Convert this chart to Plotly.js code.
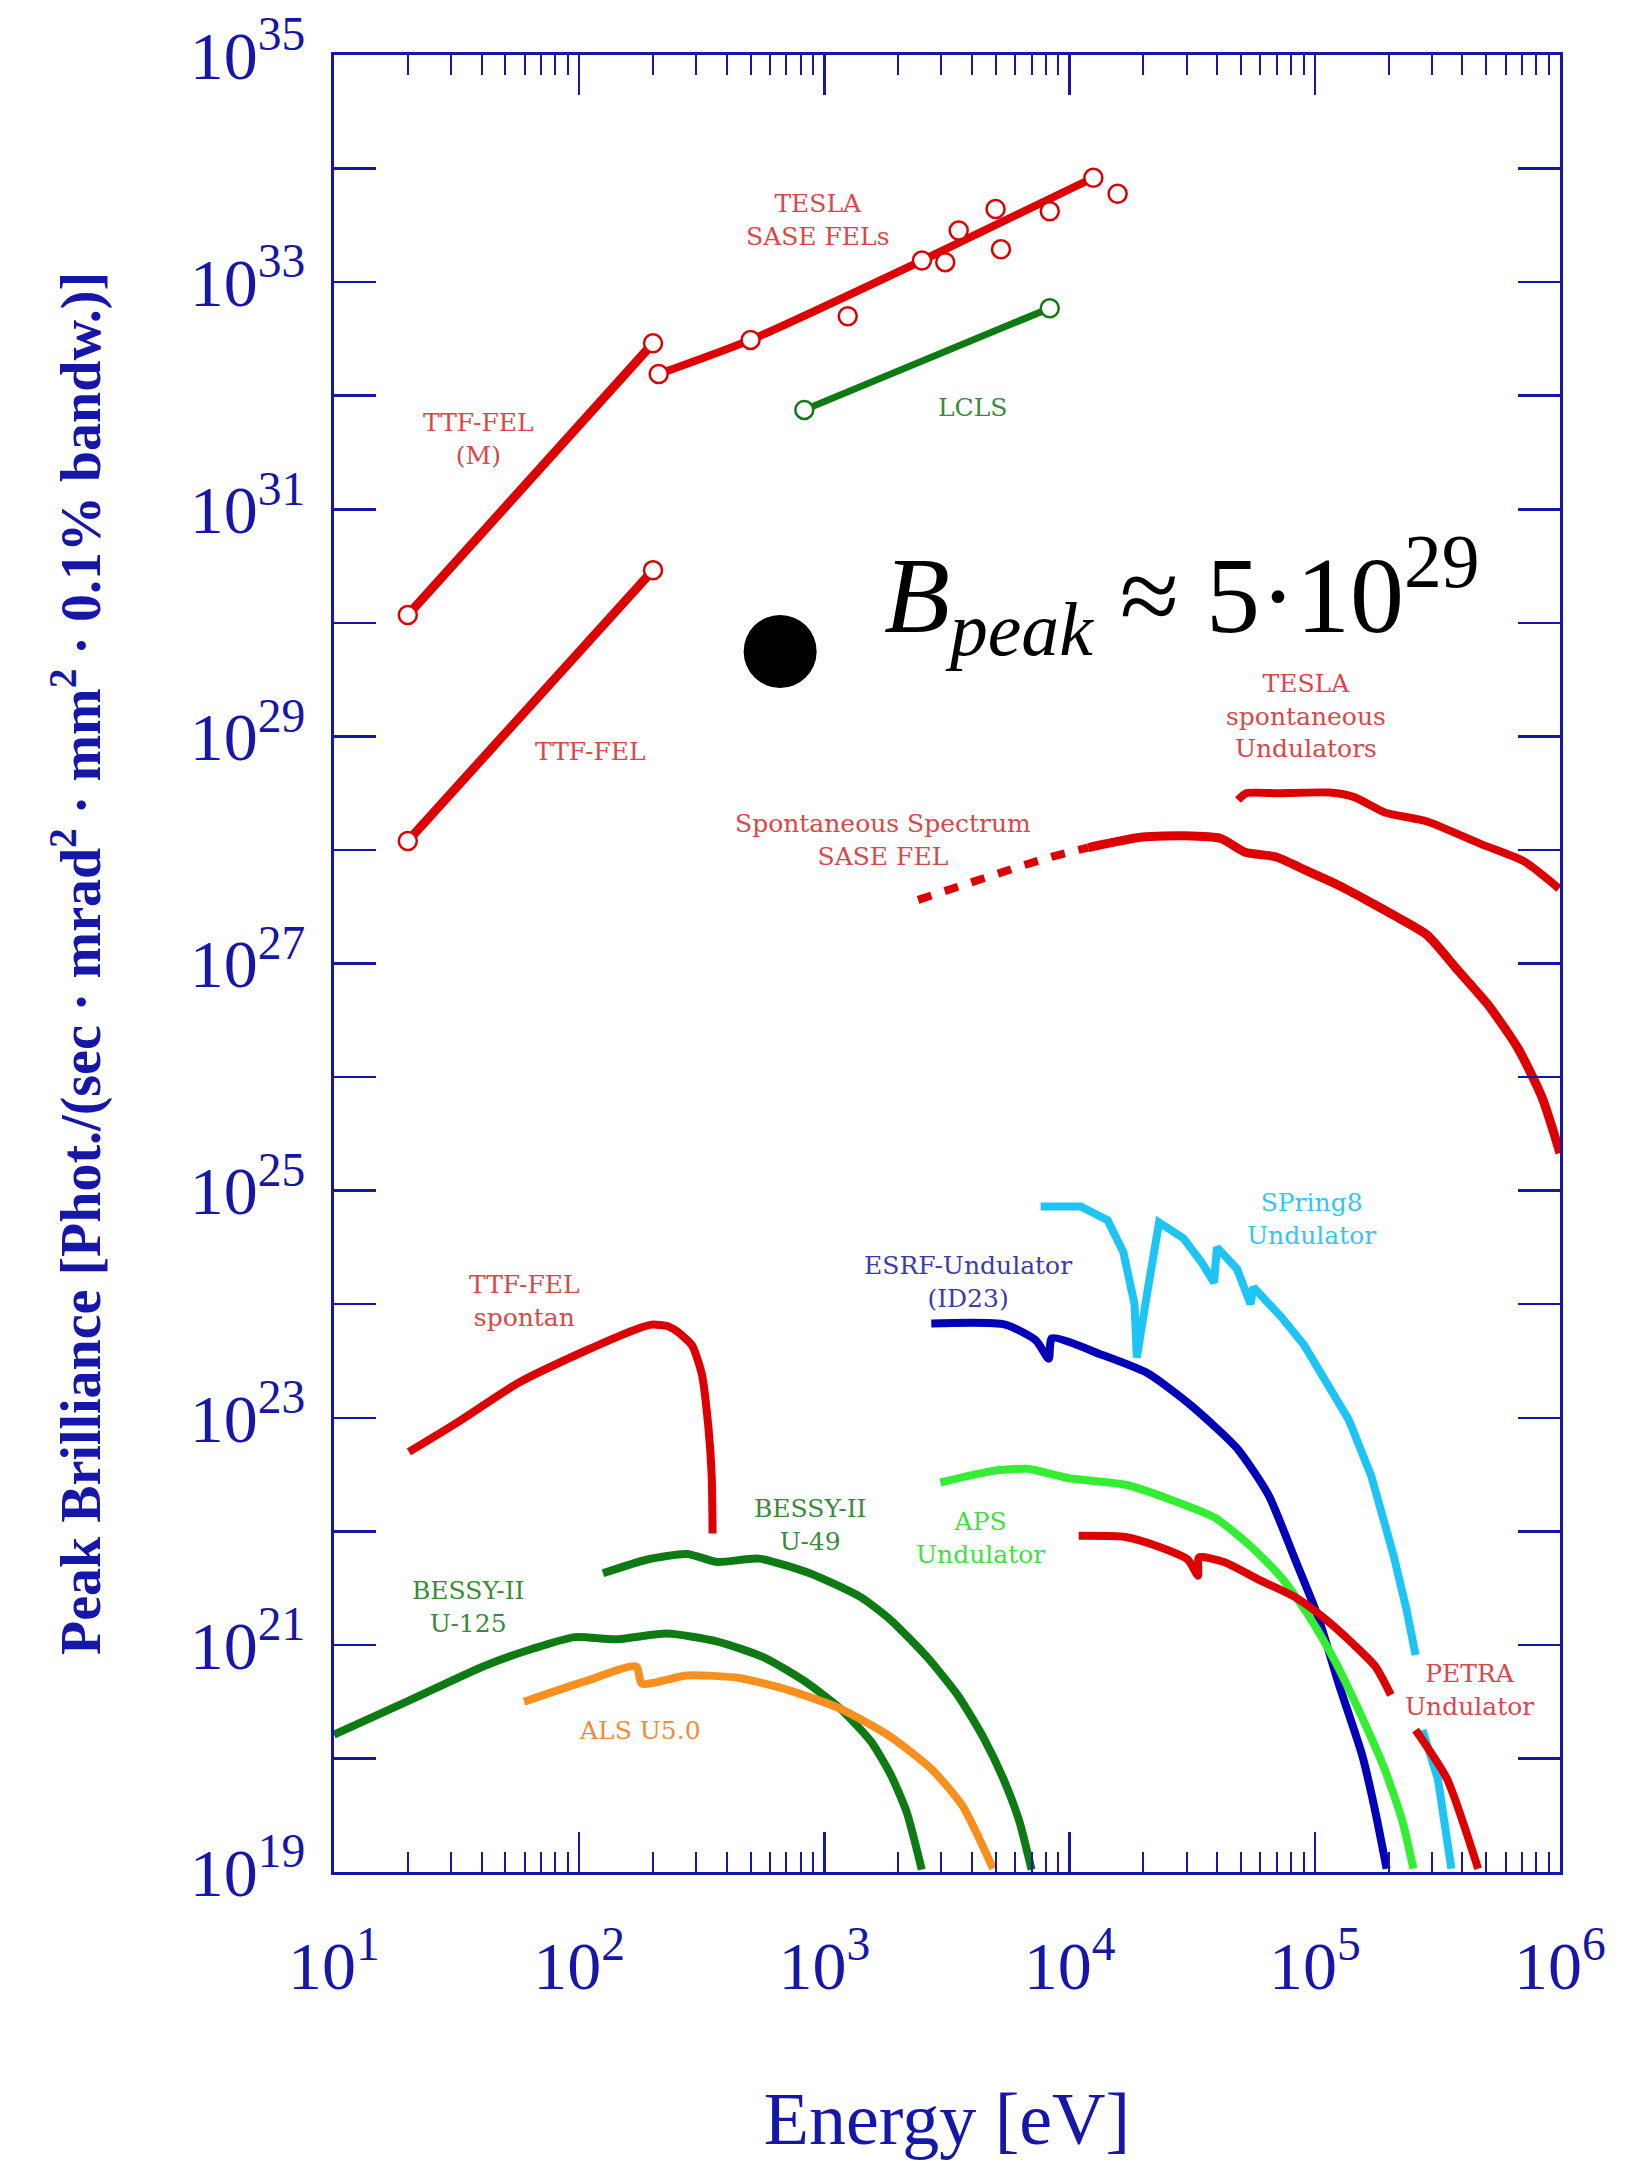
<!DOCTYPE html>
<html>
<head>
<meta charset="utf-8">
<script src="https://cdn.plot.ly/plotly-3.0.1.min.js"></script>
<style>html,body{margin:0;padding:0;background:#fff;}#chart{width:1650px;height:2164px;}</style>
</head>
<body>
<div id="chart"></div>
<script>
// ---------- data (Energy in eV, Peak Brilliance) ----------
const ttfFelM_E = [20, 200];
const ttfFelM_B = [1.17e30, 2.9e32];

const ttfFel_E = [20, 200];
const ttfFel_B = [1.2e28, 2.9e30];

const teslaSase_E = [211, 500, 2500, 12500];
const teslaSase_B = [1.55e32, 3.1e32, 1.55e33, 8.3e33];

const teslaPts_E = [211, 500, 1245, 2500, 3110, 3530, 4990, 5250, 8300, 12500, 15700];
const teslaPts_B = [1.55e32, 3.1e32, 5.0e32, 1.55e33, 1.5e33, 2.85e33, 4.4e33, 1.95e33, 4.2e33, 8.3e33, 6.0e33];

const lcls_E = [828, 8300];
const lcls_B = [7.5e31, 5.9e32];

const bpeak_E = [660];
const bpeak_B = [5.6e29];

const teslaSpont_E = [48600, 52500, 69200, 115000, 145000, 193000, 287000, 479000, 713000, 990000];
const teslaSpont_B = [2.75e28, 3.16e28, 3.16e28, 3.2e28, 2.92e28, 2.14e28, 1.78e28, 1.12e28, 7.94e27, 4.57e27];

const saseSpontDash_E = [2410, 3400, 4780, 6170, 8430, 11900];
const saseSpontDash_B = [3.63e27, 4.68e27, 6.03e27, 7.08e27, 8.71e27, 1.05e28];

const saseSpont_E = [11900, 19800, 29400, 41400, 52000, 69200, 92000, 122000, 162000, 216000, 287000, 380000, 507000, 675000, 845000, 1000000];
const saseSpont_B = [1.05e28, 1.30e28, 1.33e28, 1.26e28, 9.55e27, 8.71e27, 6.61e27, 5.01e27, 3.63e27, 2.57e27, 1.78e27, 8.91e26, 4.37e26, 1.78e26, 6.61e25, 2.14e25];

const ttfSpont_E = [20.2, 31.9, 56.8, 106, 171, 197, 230, 251, 288, 316, 337, 347, 350];
const ttfSpont_B = [5.01e22, 9.12e22, 2.04e23, 3.89e23, 6.03e23, 6.61e23, 6.4e23, 5.75e23, 4.37e23, 2.45e23, 7.94e22, 3.09e22, 9.55e21];

const bessyU49_E = [125, 188, 275, 367, 540, 871, 1406, 1862, 2630, 3490, 4436, 5370, 6210, 7000];
const bessyU49_B = [4.27e21, 5.62e21, 6.31e21, 5.37e21, 5.75e21, 4.27e21, 2.63e21, 1.66e21, 7.76e20, 3.63e20, 1.55e20, 6.61e19, 2.88e19, 1.05e19];

const bessyU125_E = [10, 19.8, 40.6, 65.5, 96.2, 141, 228, 367, 566, 830, 1159, 1549, 1862, 2163, 2495];
const bessyU125_B = [1.62e20, 3.16e20, 6.46e20, 9.33e20, 1.17e21, 1.12e21, 1.26e21, 1.07e21, 7.76e20, 4.79e20, 2.75e20, 1.41e20, 7.24e19, 3.39e19, 1.05e19];

const als_E = [59.6, 106, 171, 180, 275, 445, 718, 1159, 1862, 2754, 3664, 4875];
const als_B = [3.16e20, 4.79e20, 6.46e20, 4.57e20, 5.37e20, 5.13e20, 3.98e20, 2.75e20, 1.55e20, 7.94e19, 3.80e19, 1.07e19];

const esrf_E = [2729, 5458, 7295, 8222, 8472, 13680, 20900, 31600, 48200, 64700, 83200, 102600, 125900, 156000, 176600, 196300];
const esrf_B = [6.76e23, 6.61e23, 4.79e23, 3.31e23, 5.01e23, 3.55e23, 2.45e23, 1.26e23, 5.37e22, 2.09e22, 5.62e21, 1.82e21, 4.37e20, 1.07e20, 3.39e19, 1.07e19];

const spring8_E = [7620, 11100, 14290, 16560, 18400, 18800, 20840, 23170, 29170, 34510, 38820, 39900, 48200, 54700, 56200, 73500, 90400, 111400, 137700, 169800, 209400, 237100, 257600, null, 274800, 317700, 360600];
const spring8_B = [7.24e24, 7.24e24, 5.50e24, 2.88e24, 1.0e24, 3.39e23, 1.35e24, 5.25e24, 3.80e24, 2.34e24, 1.55e24, 3.16e24, 2.04e24, 1.0e24, 1.41e24, 7.59e23, 4.37e23, 2.04e23, 9.55e22, 3.09e22, 6.17e21, 2.0e21, 8.13e20, null, 1.78e20, 6.61e19, 1.07e19];

const aps_E = [2972, 4808, 6730, 9795, 16900, 25700, 39100, 54700, 73300, 94200, 121300, 156000, 192300, 227500, 252400];
const aps_B = [2.69e22, 3.39e22, 3.55e22, 2.95e22, 2.57e22, 1.91e22, 1.32e22, 7.41e21, 3.89e21, 1.82e21, 7.08e20, 2.29e20, 8.13e19, 2.82e19, 1.07e19];

const petra_E = [10890, 16900, 22700, 30400, 33400, 33700, 42600, 59600, 83200, 111400, 143200, 176600, 204200, null, 257600, 345900, 463400];
const petra_B = [9.12e21, 8.91e21, 7.41e21, 5.62e21, 4.07e21, 5.89e21, 5.37e21, 3.72e21, 2.63e21, 1.66e21, 1.02e21, 6.46e20, 3.63e20, null, 1.78e20, 6.61e19, 1.07e19];

// tick labels
const xTickVals = [10, 100, 1000, 10000, 100000, 1000000];
const xTickText = ['10<sup>1</sup>','10<sup>2</sup>','10<sup>3</sup>','10<sup>4</sup>','10<sup>5</sup>','10<sup>6</sup>'];
const yTickVals = [1e19,1e20,1e21,1e22,1e23,1e24,1e25,1e26,1e27,1e28,1e29,1e30,1e31,1e32,1e33,1e34,1e35];
const yTickText = ['10<sup>19</sup>','','10<sup>21</sup>','','10<sup>23</sup>','','10<sup>25</sup>','','10<sup>27</sup>','','10<sup>29</sup>','','10<sup>31</sup>','','10<sup>33</sup>','','10<sup>35</sup>'];

// labels: [text, energy, brilliance, colour]
const labelText = ['TESLA<br>SASE FELs','TTF-FEL<br>(M)','LCLS','TTF-FEL','Spontaneous Spectrum<br>SASE FEL','TESLA<br>spontaneous<br>Undulators','TTF-FEL<br>spontan','ESRF-Undulator<br>(ID23)','SPring8<br>Undulator','BESSY-II<br>U-49','APS<br>Undulator','BESSY-II<br>U-125','ALS U5.0','PETRA<br>Undulator'];
const labelE = [942, 39, 4000, 111, 1734, 92000, 59.6, 3855, 96600, 873, 4315, 35.2, 177, 425600];
const labelB = [3.52e33, 4.16e31, 7.94e31, 7.3e28, 1.22e28, 1.51e29, 1.07e24, 1.57e24, 5.62e24, 1.14e22, 8.7e21, 2.16e21, 1.75e20, 4.0e20];
const labelColor = ['#d84848','#d84848','#3a8a3a','#d84848','#d84848','#d84848','#d84848','#3a3ab0','#38c4f0','#3a8a3a','#44dd44','#3a8a3a','#ee8c38','#d84848'];

// ---------- styling ----------
const AX = '#1616a8';
const RED = '#dd0000', DGREEN = '#0e7a14', LGREEN = '#33ee33', LBLUE = '#1ec4f4', DBLUE = '#0000b8', ORANGE = '#f7901e';
const LW = 8;

function line(x, y, color, width, extra) {
  return Object.assign({x: x, y: y, type: 'scatter', mode: 'lines', line: {color: color, width: width, shape: 'spline', smoothing: 0.6}, hoverinfo: 'skip', connectgaps: false}, extra || {});
}
const circ = (c) => ({symbol: 'circle', size: 18, color: 'white', line: {color: c, width: 2.5}});

const traces = [
  line(ttfFelM_E, ttfFelM_B, RED, 9, {mode: 'lines+markers', marker: circ(RED)}),
  line(ttfFel_E, ttfFel_B, RED, 9, {mode: 'lines+markers', marker: circ(RED)}),
  line(teslaSase_E, teslaSase_B, RED, 8),
  {x: teslaPts_E, y: teslaPts_B, type: 'scatter', mode: 'markers', marker: circ(RED), hoverinfo: 'skip'},
  line(lcls_E, lcls_B, DGREEN, 7, {mode: 'lines+markers', marker: circ(DGREEN)}),
  {x: bpeak_E, y: bpeak_B, type: 'scatter', mode: 'markers', marker: {symbol: 'circle', size: 73, color: 'black'}, hoverinfo: 'skip'},
  line(teslaSpont_E, teslaSpont_B, RED, LW),
  line(saseSpontDash_E, saseSpontDash_B, RED, LW, {line: {color: RED, width: LW, dash: '14px,14px'}}),
  line(saseSpont_E, saseSpont_B, RED, 9),
  line(ttfSpont_E, ttfSpont_B, RED, LW),
  line(bessyU49_E, bessyU49_B, DGREEN, LW),
  line(bessyU125_E, bessyU125_B, DGREEN, LW),
  line(als_E, als_B, ORANGE, LW),
  line(esrf_E, esrf_B, DBLUE, LW),
  line(spring8_E, spring8_B, LBLUE, LW, {line: {color: LBLUE, width: LW}}),
  line(aps_E, aps_B, LGREEN, LW),
  line(petra_E, petra_B, RED, LW)
];

const annotations = labelText.map((t, i) => ({
  text: t, x: Math.log10(labelE[i]), y: Math.log10(labelB[i]), xref: 'x', yref: 'y',
  showarrow: false, xanchor: 'center', yanchor: 'middle', align: 'center',
  font: {family: 'DejaVu Serif', size: 25, color: labelColor[i]}
}));
annotations.push({
  text: '<i>B</i><sub><i>peak</i></sub> ≈ 5·10<sup>29</sup>',
  x: Math.log10(1720), y: Math.log10(1.75e30), xref: 'x', yref: 'y', showarrow: false,
  xanchor: 'left', yanchor: 'middle', font: {family: 'Liberation Serif', size: 108, color: '#000'}
});

const tickFont = {family: 'Liberation Serif', size: 68, color: AX};

const layout = {
  width: 1650, height: 2164,
  margin: {l: 334, r: 90, t: 55, b: 292},
  paper_bgcolor: '#fff', plot_bgcolor: '#fff',
  showlegend: false,
  xaxis: {
    type: 'log', range: [1, 6], tickmode: 'array', tickvals: xTickVals, ticktext: xTickText,
    showgrid: false, zeroline: false, showline: true, linecolor: AX, linewidth: 3, mirror: 'ticks',
    ticks: 'inside', ticklen: 40, tickwidth: 2.5, tickcolor: AX,
    minor: {ticks: 'inside', ticklen: 20, tickwidth: 2, tickcolor: AX, dtick: 'D1', showgrid: false},
    tickfont: tickFont, ticklabelstandoff: 32,
    title: {text: 'Energy [eV]', font: {family: 'Liberation Serif', size: 74, color: AX}, standoff: 90}
  },
  yaxis: {
    type: 'log', range: [19, 35], tickmode: 'array', tickvals: yTickVals, ticktext: yTickText,
    showgrid: false, zeroline: false, showline: true, linecolor: AX, linewidth: 3, mirror: 'ticks',
    ticks: 'inside', ticklen: 42, tickwidth: 2.5, tickcolor: AX,
    tickfont: tickFont, ticklabelstandoff: 12,
    title: {text: 'Peak Brilliance [Phot./(sec · mrad<sup>2</sup> · mm<sup>2</sup> · 0.1% bandw.)]', font: {family: 'Liberation Serif', size: 56, color: AX, weight: 'bold'}, standoff: 72}
  },
  annotations: annotations
};

Plotly.newPlot('chart', traces, layout, {staticPlot: true, displayModeBar: false});
</script>
</body>
</html>
